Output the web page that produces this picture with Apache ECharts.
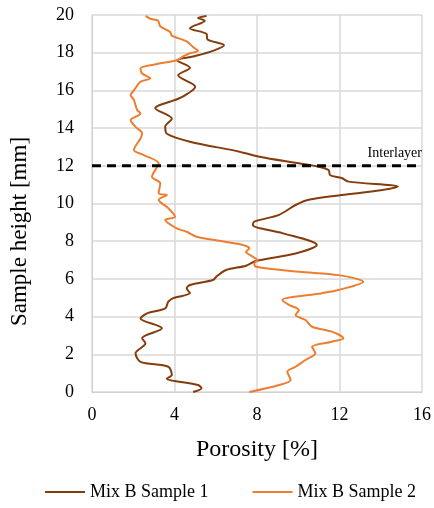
<!DOCTYPE html>
<html>
<head>
<meta charset="utf-8">
<script src="https://cdn.jsdelivr.net/npm/echarts@6/dist/echarts.min.js"></script>
<style>
  html, body { margin: 0; padding: 0; background: #fff; }
  #chart { width: 434px; height: 508px; }
</style>
</head>
<body>
<div id="chart"></div>
<script>
// porosity [%] read along the sample height [mm], top to bottom
var sample1Porosity = [5.55, 5.14, 5.47, 4.75, 5.55, 5.6, 6.4, 5.86, 4.9, 4.12, 4.75, 4.18, 5.0, 4.27, 3.07, 3.87, 3.55, 3.63, 4.75, 7.15, 8.11, 10.03, 11.0, 11.47, 11.55, 12.1, 12.43, 14.83, 14.0, 12.1, 10.5, 9.87, 9.07, 7.87, 7.8, 9.23, 10.9, 9.87, 7.95, 7.47, 6.5, 6.03, 5.87, 4.75, 4.59, 4.75, 3.94, 3.7, 3.55, 2.67, 2.35, 3.39, 2.43, 2.59, 2.11, 2.35, 3.7, 3.87, 3.63, 5.14, 5.31, 4.9]
var sample1Height = [19.95, 19.84, 19.7, 19.3, 19.0, 18.7, 18.4, 18.1, 17.8, 17.6, 17.2, 16.8, 16.2, 15.6, 15.05, 14.5, 14.07, 13.7, 13.28, 12.75, 12.48, 12.13, 11.95, 11.78, 11.5, 11.35, 11.16, 10.9, 10.7, 10.45, 10.2, 9.92, 9.4, 9.04, 8.86, 8.43, 7.8, 7.35, 6.95, 6.7, 6.47, 6.12, 5.94, 5.68, 5.5, 5.25, 4.98, 4.79, 4.43, 4.17, 3.9, 3.38, 2.85, 2.58, 2.05, 1.6, 1.34, 0.9, 0.72, 0.37, 0.2, 0]

var sample2Porosity = [2.6, 2.83, 3.2, 3.31, 3.79, 3.87, 4.59, 4.9, 5.14, 4.75, 4.42, 4.11, 3.15, 2.35, 2.43, 2.83, 2.35, 2.03, 1.87, 2.03, 2.19, 2.35, 1.87, 2.11, 2.43, 2.35, 2.03, 2.51, 3.23, 2.91, 3.31, 3.23, 3.63, 3.23, 3.71, 4.03, 3.55, 4.11, 4.59, 5.07, 7.31, 7.63, 7.47, 7.79, 8.03, 7.87, 7.95, 10.03, 11.95, 13.15, 11.95, 11.15, 9.23, 9.55, 10.03, 9.87, 10.35, 10.67, 11.63, 12.19, 11.63, 10.67, 10.83, 10.35, 9.87, 9.47, 9.63, 9.07, 7.63]
var sample2Height = [19.95, 19.8, 19.7, 19.4, 19.1, 18.9, 18.6, 18.3, 18.1, 17.97, 17.8, 17.6, 17.4, 17.17, 16.9, 16.64, 16.46, 16.0, 15.75, 15.5, 14.96, 14.78, 14.43, 14.07, 13.72, 13.45, 12.84, 12.57, 12.13, 11.42, 11.07, 10.54, 10.45, 10.2, 9.74, 9.3, 9.12, 8.68, 8.5, 8.24, 7.8, 7.62, 7.44, 7.18, 7.0, 6.83, 6.65, 6.38, 6.2, 5.85, 5.41, 5.24, 4.88, 4.62, 4.35, 4.08, 3.82, 3.46, 3.2, 2.85, 2.67, 2.4, 2.05, 1.7, 1.34, 1.08, 0.64, 0.37, 0]

var interlayerHeight = 12
var seriesNames = ['Mix B Sample 1', 'Mix B Sample 2']

function pairs(xs, ys) {
  return xs.map(function (x, i) { return [x, ys[i]] })
}

var mycharts = echarts.init(document.getElementById('chart'))
var font = 'Liberation Serif, Times New Roman, serif'

mycharts.setOption({
  animation: false,
  textStyle: { fontFamily: font },
  grid: { left: 91, right: 10, top: 15, bottom: 116 },
  xAxis: {
    type: 'value',
    min: 0,
    max: 16,
    interval: 4,
    name: 'Porosity [%]',
    nameLocation: 'middle',
    nameGap: 46,
    nameTextStyle: { fontSize: 24, color: '#000', fontFamily: font },
    axisLine: { show: true, lineStyle: { color: '#d0d0d0', width: 1 } },
    axisTick: { show: false },
    axisLabel: { fontSize: 18, color: '#000', margin: 14, fontFamily: font },
    splitLine: { show: true, lineStyle: { color: '#d9d9d9', width: 1.5 } }
  },
  yAxis: {
    type: 'value',
    min: 0,
    max: 20,
    interval: 2,
    name: 'Sample height [mm]',
    nameLocation: 'middle',
    nameGap: 61,
    // title sits a bit below the plot centre, like in the original
    nameTextStyle: { fontSize: 23, color: '#000', fontFamily: font, padding: [0, 56, 0, 0] },
    axisLine: { show: true, lineStyle: { color: '#d0d0d0', width: 1 } },
    axisTick: { show: false },
    axisLabel: { fontSize: 18, color: '#000', margin: 18, fontFamily: font },
    splitLine: { show: true, lineStyle: { color: '#d9d9d9', width: 1.5 } }
  },
  legend: {
    data: seriesNames,
    bottom: 2,
    left: 40,
    itemGap: 44,
    itemWidth: 40,
    itemHeight: 10,
    icon: 'path://M0,4 L40,4 L40,6 L0,6 Z',
    textStyle: { fontSize: 18, color: '#000', fontFamily: font }
  },
  series: [
    {
      // interlayer marker
      name: 'Interlayer',
      type: 'line',
      data: [[0, interlayerHeight], [16, interlayerHeight]],
      symbol: 'none',
      silent: true,
      lineStyle: { color: '#000', width: 3, type: [9, 6] },
      endLabel: {
        show: true,
        formatter: 'Interlayer',
        fontSize: 14,
        color: '#000',
        fontFamily: font,
        align: 'right',
        verticalAlign: 'bottom',
        offset: [-8, -5]
      },
      z: 3
    },
    {
      name: seriesNames[0],
      type: 'line',
      data: pairs(sample1Porosity, sample1Height),
      symbol: 'none',
      smooth: 0.3,
      lineStyle: { color: '#843c0c', width: 2 },
      itemStyle: { color: '#843c0c' },
      z: 2
    },
    {
      name: seriesNames[1],
      type: 'line',
      data: pairs(sample2Porosity, sample2Height),
      symbol: 'none',
      smooth: 0.3,
      lineStyle: { color: '#ed7d31', width: 2 },
      itemStyle: { color: '#ed7d31' },
      z: 2
    }
  ]
})
</script>
</body>
</html>
